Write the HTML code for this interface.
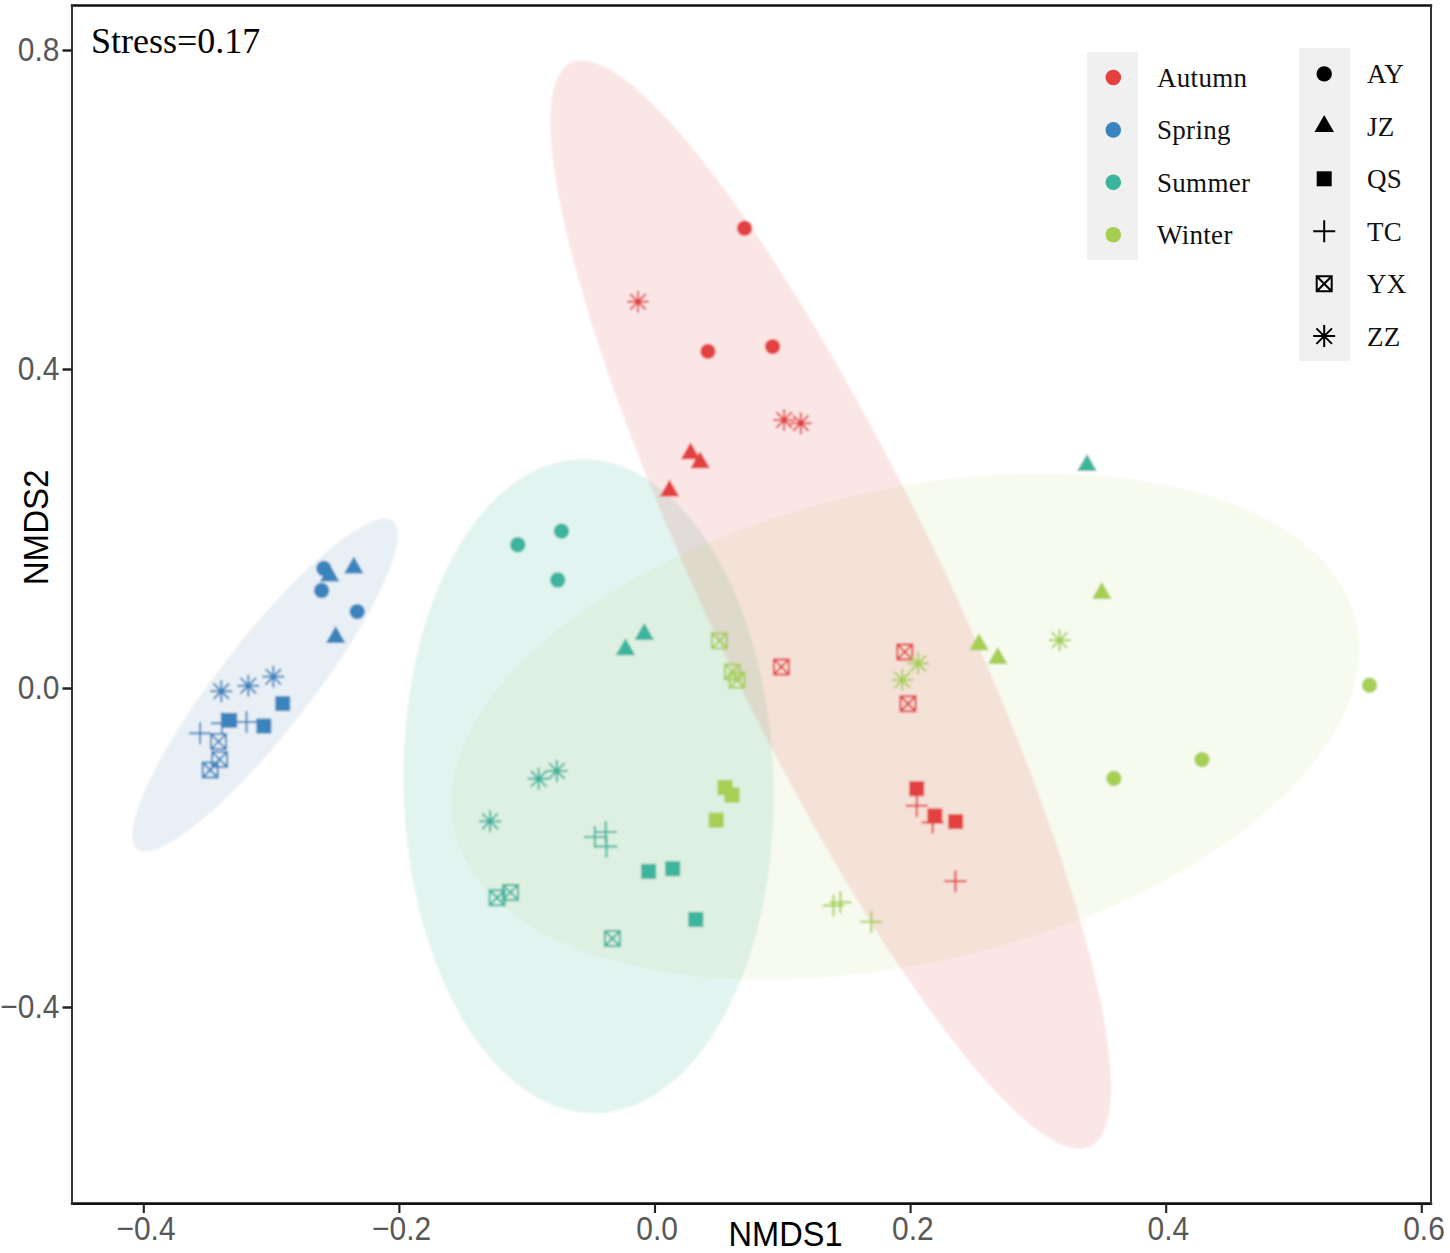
<!DOCTYPE html>
<html><head><meta charset="utf-8"><style>
html,body{margin:0;padding:0;background:#fff;}
body{width:1450px;height:1253px;overflow:hidden;}
svg{display:block;}
.ax{font-family:"Liberation Sans",sans-serif;font-size:30px;fill:#585858;}
.ti{font-family:"Liberation Sans",sans-serif;font-size:32.6px;fill:#000;}
.lg{font-family:"Liberation Serif",serif;font-size:27px;fill:#111;letter-spacing:0.3px;}
.st{font-family:"Liberation Serif",serif;font-size:36px;fill:#000;}
</style></head><body>
<svg width="1450" height="1253" viewBox="0 0 1450 1253">
<defs><filter id="bl" filterUnits="userSpaceOnUse" x="0" y="0" width="1450" height="1253"><feGaussianBlur stdDeviation="0.8"/></filter></defs>
<rect x="0" y="0" width="1450" height="1253" fill="#fff"/>
<g filter="url(#bl)">
<rect x="0" y="0" width="1450" height="1253" fill="#fff"/>
<ellipse cx="265.0" cy="685.2" rx="208.0" ry="46.0" transform="rotate(-52.1 265.0 685.2)" fill="#4A80AA" fill-opacity="0.12"/>
<ellipse cx="588.57" cy="786.23" rx="327.12" ry="185.01" transform="rotate(88.61 588.57 786.23)" fill="#3CB49C" fill-opacity="0.15"/>
<ellipse cx="905.34" cy="726.47" rx="462.65" ry="236.52" transform="rotate(-13.09 905.34 726.47)" fill="#AFCD5F" fill-opacity="0.1"/>
<ellipse cx="830.7" cy="604.6" rx="601.0" ry="117.0" transform="rotate(64.4 830.7 604.6)" fill="#E3403F" fill-opacity="0.13"/>
<path d="M905.8 805.8H927.8M916.8 794.8V816.8" stroke="#E3403F" stroke-width="2.0" fill="none"/>
<path d="M921.6 822.4H943.6M932.6 811.4V833.4" stroke="#E3403F" stroke-width="2.0" fill="none"/>
<path d="M944.4 881.3H966.4M955.4 870.3V892.3" stroke="#E3403F" stroke-width="2.0" fill="none"/>
<path d="M690.5 442.2L700.2 459.2L680.8 459.2Z" fill="#E3403F"/>
<path d="M700.1 451.2L709.9 468.2L690.4 468.2Z" fill="#E3403F"/>
<path d="M669.5 479.5L679.2 496.5L659.8 496.5Z" fill="#E3403F"/>
<path d="M773.9 659.4H788.9V674.4H773.9Z M773.9 659.4L788.9 674.4M788.9 659.4L773.9 674.4" stroke="#E3403F" stroke-width="2.0" fill="none"/>
<path d="M897.3 644.4H912.3V659.4H897.3Z M897.3 644.4L912.3 659.4M912.3 644.4L897.3 659.4" stroke="#E3403F" stroke-width="2.0" fill="none"/>
<path d="M900.5 696.2H915.5V711.2H900.5Z M900.5 696.2L915.5 711.2M915.5 696.2L900.5 711.2" stroke="#E3403F" stroke-width="2.0" fill="none"/>
<path d="M627.0 301.8H649.0M638.0 290.8V312.8M630.2 294.0L645.8 309.6M645.8 294.0L630.2 309.6" stroke="#E3403F" stroke-width="2.0" fill="none"/>
<path d="M773.1 419.9H795.1M784.1 408.9V430.9M776.3 412.1L791.9 427.7M791.9 412.1L776.3 427.7" stroke="#E3403F" stroke-width="2.0" fill="none"/>
<path d="M789.8 423.2H811.8M800.8 412.2V434.2M793.0 415.4L808.6 431.0M808.6 415.4L793.0 431.0" stroke="#E3403F" stroke-width="2.0" fill="none"/>
<circle cx="744.6" cy="228.3" r="7.70" fill="#E3403F"/>
<circle cx="707.9" cy="351.4" r="7.70" fill="#E3403F"/>
<circle cx="772.6" cy="346.6" r="7.70" fill="#E3403F"/>
<rect x="909.2" y="781.2" width="15.0" height="15.0" fill="#E3403F"/>
<rect x="927.3" y="808.4" width="15.0" height="15.0" fill="#E3403F"/>
<rect x="948.1" y="814.1" width="15.0" height="15.0" fill="#E3403F"/>
<path d="M583.9 837.1H605.9M594.9 826.1V848.1" stroke="#3CB49C" stroke-width="2.0" fill="none"/>
<path d="M594.7 831.9H616.7M605.7 820.9V842.9" stroke="#3CB49C" stroke-width="2.0" fill="none"/>
<path d="M595.4 846.6H617.4M606.4 835.6V857.6" stroke="#3CB49C" stroke-width="2.0" fill="none"/>
<path d="M625.5 638.2L635.2 655.2L615.8 655.2Z" fill="#3CB49C"/>
<path d="M644.3 623.0L654.0 640.0L634.5 640.0Z" fill="#3CB49C"/>
<path d="M1087.0 453.9L1096.8 470.9L1077.2 470.9Z" fill="#3CB49C"/>
<path d="M489.6 890.3H504.6V905.3H489.6Z M489.6 890.3L504.6 905.3M504.6 890.3L489.6 905.3" stroke="#3CB49C" stroke-width="2.0" fill="none"/>
<path d="M503.0 884.9H518.0V899.9H503.0Z M503.0 884.9L518.0 899.9M518.0 884.9L503.0 899.9" stroke="#3CB49C" stroke-width="2.0" fill="none"/>
<path d="M604.9 931.0H619.9V946.0H604.9Z M604.9 931.0L619.9 946.0M619.9 931.0L604.9 946.0" stroke="#3CB49C" stroke-width="2.0" fill="none"/>
<path d="M527.7 778.8H549.7M538.7 767.8V789.8M530.9 771.0L546.5 786.6M546.5 771.0L530.9 786.6" stroke="#3CB49C" stroke-width="2.0" fill="none"/>
<path d="M545.8 770.9H567.8M556.8 759.9V781.9M549.0 763.1L564.6 778.7M564.6 763.1L549.0 778.7" stroke="#3CB49C" stroke-width="2.0" fill="none"/>
<path d="M479.1 821.2H501.1M490.1 810.2V832.2M482.3 813.4L497.9 829.0M497.9 813.4L482.3 829.0" stroke="#3CB49C" stroke-width="2.0" fill="none"/>
<circle cx="517.8" cy="544.7" r="7.70" fill="#3CB49C"/>
<circle cx="561.5" cy="531.1" r="7.70" fill="#3CB49C"/>
<circle cx="557.7" cy="580.0" r="7.70" fill="#3CB49C"/>
<rect x="641.1" y="863.9" width="15.0" height="15.0" fill="#3CB49C"/>
<rect x="665.2" y="861.2" width="15.0" height="15.0" fill="#3CB49C"/>
<rect x="688.3" y="912.0" width="15.0" height="15.0" fill="#3CB49C"/>
<path d="M822.5 905.4H844.5M833.5 894.4V916.4" stroke="#A6CF52" stroke-width="2.0" fill="none"/>
<path d="M829.4 902.2H851.4M840.4 891.2V913.2" stroke="#A6CF52" stroke-width="2.0" fill="none"/>
<path d="M860.3 921.7H882.3M871.3 910.7V932.7" stroke="#A6CF52" stroke-width="2.0" fill="none"/>
<path d="M979.0 633.2L988.8 650.2L969.2 650.2Z" fill="#A6CF52"/>
<path d="M997.8 647.0L1007.5 664.0L988.0 664.0Z" fill="#A6CF52"/>
<path d="M1101.8 581.9L1111.5 598.9L1092.0 598.9Z" fill="#A6CF52"/>
<path d="M711.9 633.2H726.9V648.2H711.9Z M711.9 633.2L726.9 648.2M726.9 633.2L711.9 648.2" stroke="#A6CF52" stroke-width="2.0" fill="none"/>
<path d="M724.9 664.4H739.9V679.4H724.9Z M724.9 664.4L739.9 679.4M739.9 664.4L724.9 679.4" stroke="#A6CF52" stroke-width="2.0" fill="none"/>
<path d="M729.5 672.5H744.5V687.5H729.5Z M729.5 672.5L744.5 687.5M744.5 672.5L729.5 687.5" stroke="#A6CF52" stroke-width="2.0" fill="none"/>
<path d="M907.1 663.5H929.1M918.1 652.5V674.5M910.3 655.7L925.9 671.3M925.9 655.7L910.3 671.3" stroke="#A6CF52" stroke-width="2.0" fill="none"/>
<path d="M891.3 680.1H913.3M902.3 669.1V691.1M894.5 672.3L910.1 687.9M910.1 672.3L894.5 687.9" stroke="#A6CF52" stroke-width="2.0" fill="none"/>
<path d="M1048.6 640.3H1070.6M1059.6 629.3V651.3M1051.8 632.5L1067.4 648.1M1067.4 632.5L1051.8 648.1" stroke="#A6CF52" stroke-width="2.0" fill="none"/>
<circle cx="1113.9" cy="778.4" r="7.70" fill="#A6CF52"/>
<circle cx="1202.0" cy="759.6" r="7.70" fill="#A6CF52"/>
<circle cx="1369.5" cy="685.3" r="7.70" fill="#A6CF52"/>
<rect x="717.5" y="780.1" width="15.0" height="15.0" fill="#A6CF52"/>
<rect x="724.5" y="787.6" width="15.0" height="15.0" fill="#A6CF52"/>
<rect x="708.7" y="812.7" width="15.0" height="15.0" fill="#A6CF52"/>
<path d="M189.1 733.2H211.1M200.1 722.2V744.2" stroke="#3B83BD" stroke-width="2.0" fill="none"/>
<path d="M210.9 723.2H232.9M221.9 712.2V734.2" stroke="#3B83BD" stroke-width="2.0" fill="none"/>
<path d="M235.5 722.0H257.5M246.5 711.0V733.0" stroke="#3B83BD" stroke-width="2.0" fill="none"/>
<path d="M329.7 564.5L339.4 581.5L319.9 581.5Z" fill="#3B83BD"/>
<path d="M353.8 556.5L363.6 573.5L344.1 573.5Z" fill="#3B83BD"/>
<path d="M335.7 626.0L345.4 643.0L325.9 643.0Z" fill="#3B83BD"/>
<path d="M211.0 734.1H226.0V749.1H211.0Z M211.0 734.1L226.0 749.1M226.0 734.1L211.0 749.1" stroke="#3B83BD" stroke-width="2.0" fill="none"/>
<path d="M212.1 751.9H227.1V766.9H212.1Z M212.1 751.9L227.1 766.9M227.1 751.9L212.1 766.9" stroke="#3B83BD" stroke-width="2.0" fill="none"/>
<path d="M202.7 762.5H217.7V777.5H202.7Z M202.7 762.5L217.7 777.5M217.7 762.5L202.7 777.5" stroke="#3B83BD" stroke-width="2.0" fill="none"/>
<path d="M210.3 691.3H232.3M221.3 680.3V702.3M213.5 683.5L229.1 699.1M229.1 683.5L213.5 699.1" stroke="#3B83BD" stroke-width="2.0" fill="none"/>
<path d="M237.3 685.7H259.3M248.3 674.7V696.7M240.5 677.9L256.1 693.5M256.1 677.9L240.5 693.5" stroke="#3B83BD" stroke-width="2.0" fill="none"/>
<path d="M262.3 676.8H284.3M273.3 665.8V687.8M265.5 669.0L281.1 684.6M281.1 669.0L265.5 684.6" stroke="#3B83BD" stroke-width="2.0" fill="none"/>
<circle cx="323.8" cy="568.5" r="7.70" fill="#3B83BD"/>
<circle cx="321.6" cy="590.5" r="7.70" fill="#3B83BD"/>
<circle cx="357.2" cy="611.6" r="7.70" fill="#3B83BD"/>
<rect x="275.2" y="696.1" width="15.0" height="15.0" fill="#3B83BD"/>
<rect x="222.2" y="712.9" width="15.0" height="15.0" fill="#3B83BD"/>
<rect x="256.3" y="718.5" width="15.0" height="15.0" fill="#3B83BD"/>
</g>
<line x1="70.8" y1="5.6" x2="1432.2" y2="5.6" stroke="#111" stroke-width="2.5"/>
<line x1="70.8" y1="1203.6" x2="1432.2" y2="1203.6" stroke="#111" stroke-width="2.6"/>
<line x1="72" y1="4.4" x2="72" y2="1204.8" stroke="#333" stroke-width="2"/>
<line x1="1431" y1="4.4" x2="1431" y2="1204.8" stroke="#333" stroke-width="2"/>
<line x1="143.8" y1="1204" x2="143.8" y2="1213" stroke="#222" stroke-width="2.1"/><text transform="translate(146.0 1239.6) scale(1 1.12)" text-anchor="middle" class="ax">−0.4</text><line x1="399.4" y1="1204" x2="399.4" y2="1213" stroke="#222" stroke-width="2.1"/><text transform="translate(401.6 1239.6) scale(1 1.12)" text-anchor="middle" class="ax">−0.2</text><line x1="655.0" y1="1204" x2="655.0" y2="1213" stroke="#222" stroke-width="2.1"/><text transform="translate(657.2 1239.6) scale(1 1.12)" text-anchor="middle" class="ax">0.0</text><line x1="910.6" y1="1204" x2="910.6" y2="1213" stroke="#222" stroke-width="2.1"/><text transform="translate(912.8 1239.6) scale(1 1.12)" text-anchor="middle" class="ax">0.2</text><line x1="1166.2" y1="1204" x2="1166.2" y2="1213" stroke="#222" stroke-width="2.1"/><text transform="translate(1168.4 1239.6) scale(1 1.12)" text-anchor="middle" class="ax">0.4</text><line x1="1421.8" y1="1204" x2="1421.8" y2="1213" stroke="#222" stroke-width="2.1"/><text transform="translate(1424.0 1239.6) scale(1 1.12)" text-anchor="middle" class="ax">0.6</text>
<line x1="62.5" y1="50.5" x2="72" y2="50.5" stroke="#222" stroke-width="2.5"/><text transform="translate(59.5 61.3) scale(1 1.12)" text-anchor="end" class="ax">0.8</text><line x1="62.5" y1="369.5" x2="72" y2="369.5" stroke="#222" stroke-width="2.5"/><text transform="translate(59.5 380.3) scale(1 1.12)" text-anchor="end" class="ax">0.4</text><line x1="62.5" y1="688.5" x2="72" y2="688.5" stroke="#222" stroke-width="2.5"/><text transform="translate(59.5 699.3) scale(1 1.12)" text-anchor="end" class="ax">0.0</text><line x1="62.5" y1="1007.5" x2="72" y2="1007.5" stroke="#222" stroke-width="2.5"/><text transform="translate(59.5 1018.3) scale(1 1.12)" text-anchor="end" class="ax">−0.4</text>
<text x="91" y="53" class="st">Stress=0.17</text>
<rect x="1087" y="52" width="51" height="208" fill="#F0F0F0"/><circle cx="1113.3" cy="77.5" r="7.8" fill="#E3403F"/><text x="1157" y="87.0" class="lg">Autumn</text><circle cx="1113.3" cy="129.9" r="7.8" fill="#3B83BD"/><text x="1157" y="139.4" class="lg">Spring</text><circle cx="1113.3" cy="182.3" r="7.8" fill="#3CB49C"/><text x="1157" y="191.8" class="lg">Summer</text><circle cx="1113.3" cy="234.7" r="7.8" fill="#A6CF52"/><text x="1157" y="244.2" class="lg">Winter</text><rect x="1299" y="48" width="51" height="313" fill="#F0F0F0"/><circle cx="1324.2" cy="73.9" r="7.70" fill="#000"/><text x="1367" y="83.4" class="lg">AY</text><path d="M1324.2 115.0L1334.0 132.0L1314.5 132.0Z" fill="#000"/><text x="1367" y="135.9" class="lg">JZ</text><rect x="1316.7" y="171.3" width="15.0" height="15.0" fill="#000"/><text x="1367" y="188.3" class="lg">QS</text><path d="M1313.2 231.3H1335.2M1324.2 220.3V242.3" stroke="#000" stroke-width="2.0" fill="none"/><text x="1367" y="240.8" class="lg">TC</text><path d="M1316.7 276.2H1331.7V291.2H1316.7Z M1316.7 276.2L1331.7 291.2M1331.7 276.2L1316.7 291.2" stroke="#000" stroke-width="2.0" fill="none"/><text x="1367" y="293.2" class="lg">YX</text><path d="M1313.2 336.1H1335.2M1324.2 325.1V347.1M1316.4 328.4L1332.0 343.9M1332.0 328.4L1316.4 343.9" stroke="#000" stroke-width="2.0" fill="none"/><text x="1367" y="345.6" class="lg">ZZ</text>
<text transform="translate(785.5 1246.2) scale(1 1.08)" text-anchor="middle" class="ti">NMDS1</text>
<text transform="translate(48.3 527.4) rotate(-90) scale(1.015 1.06)" text-anchor="middle" class="ti">NMDS2</text>
</svg>
</body></html>
